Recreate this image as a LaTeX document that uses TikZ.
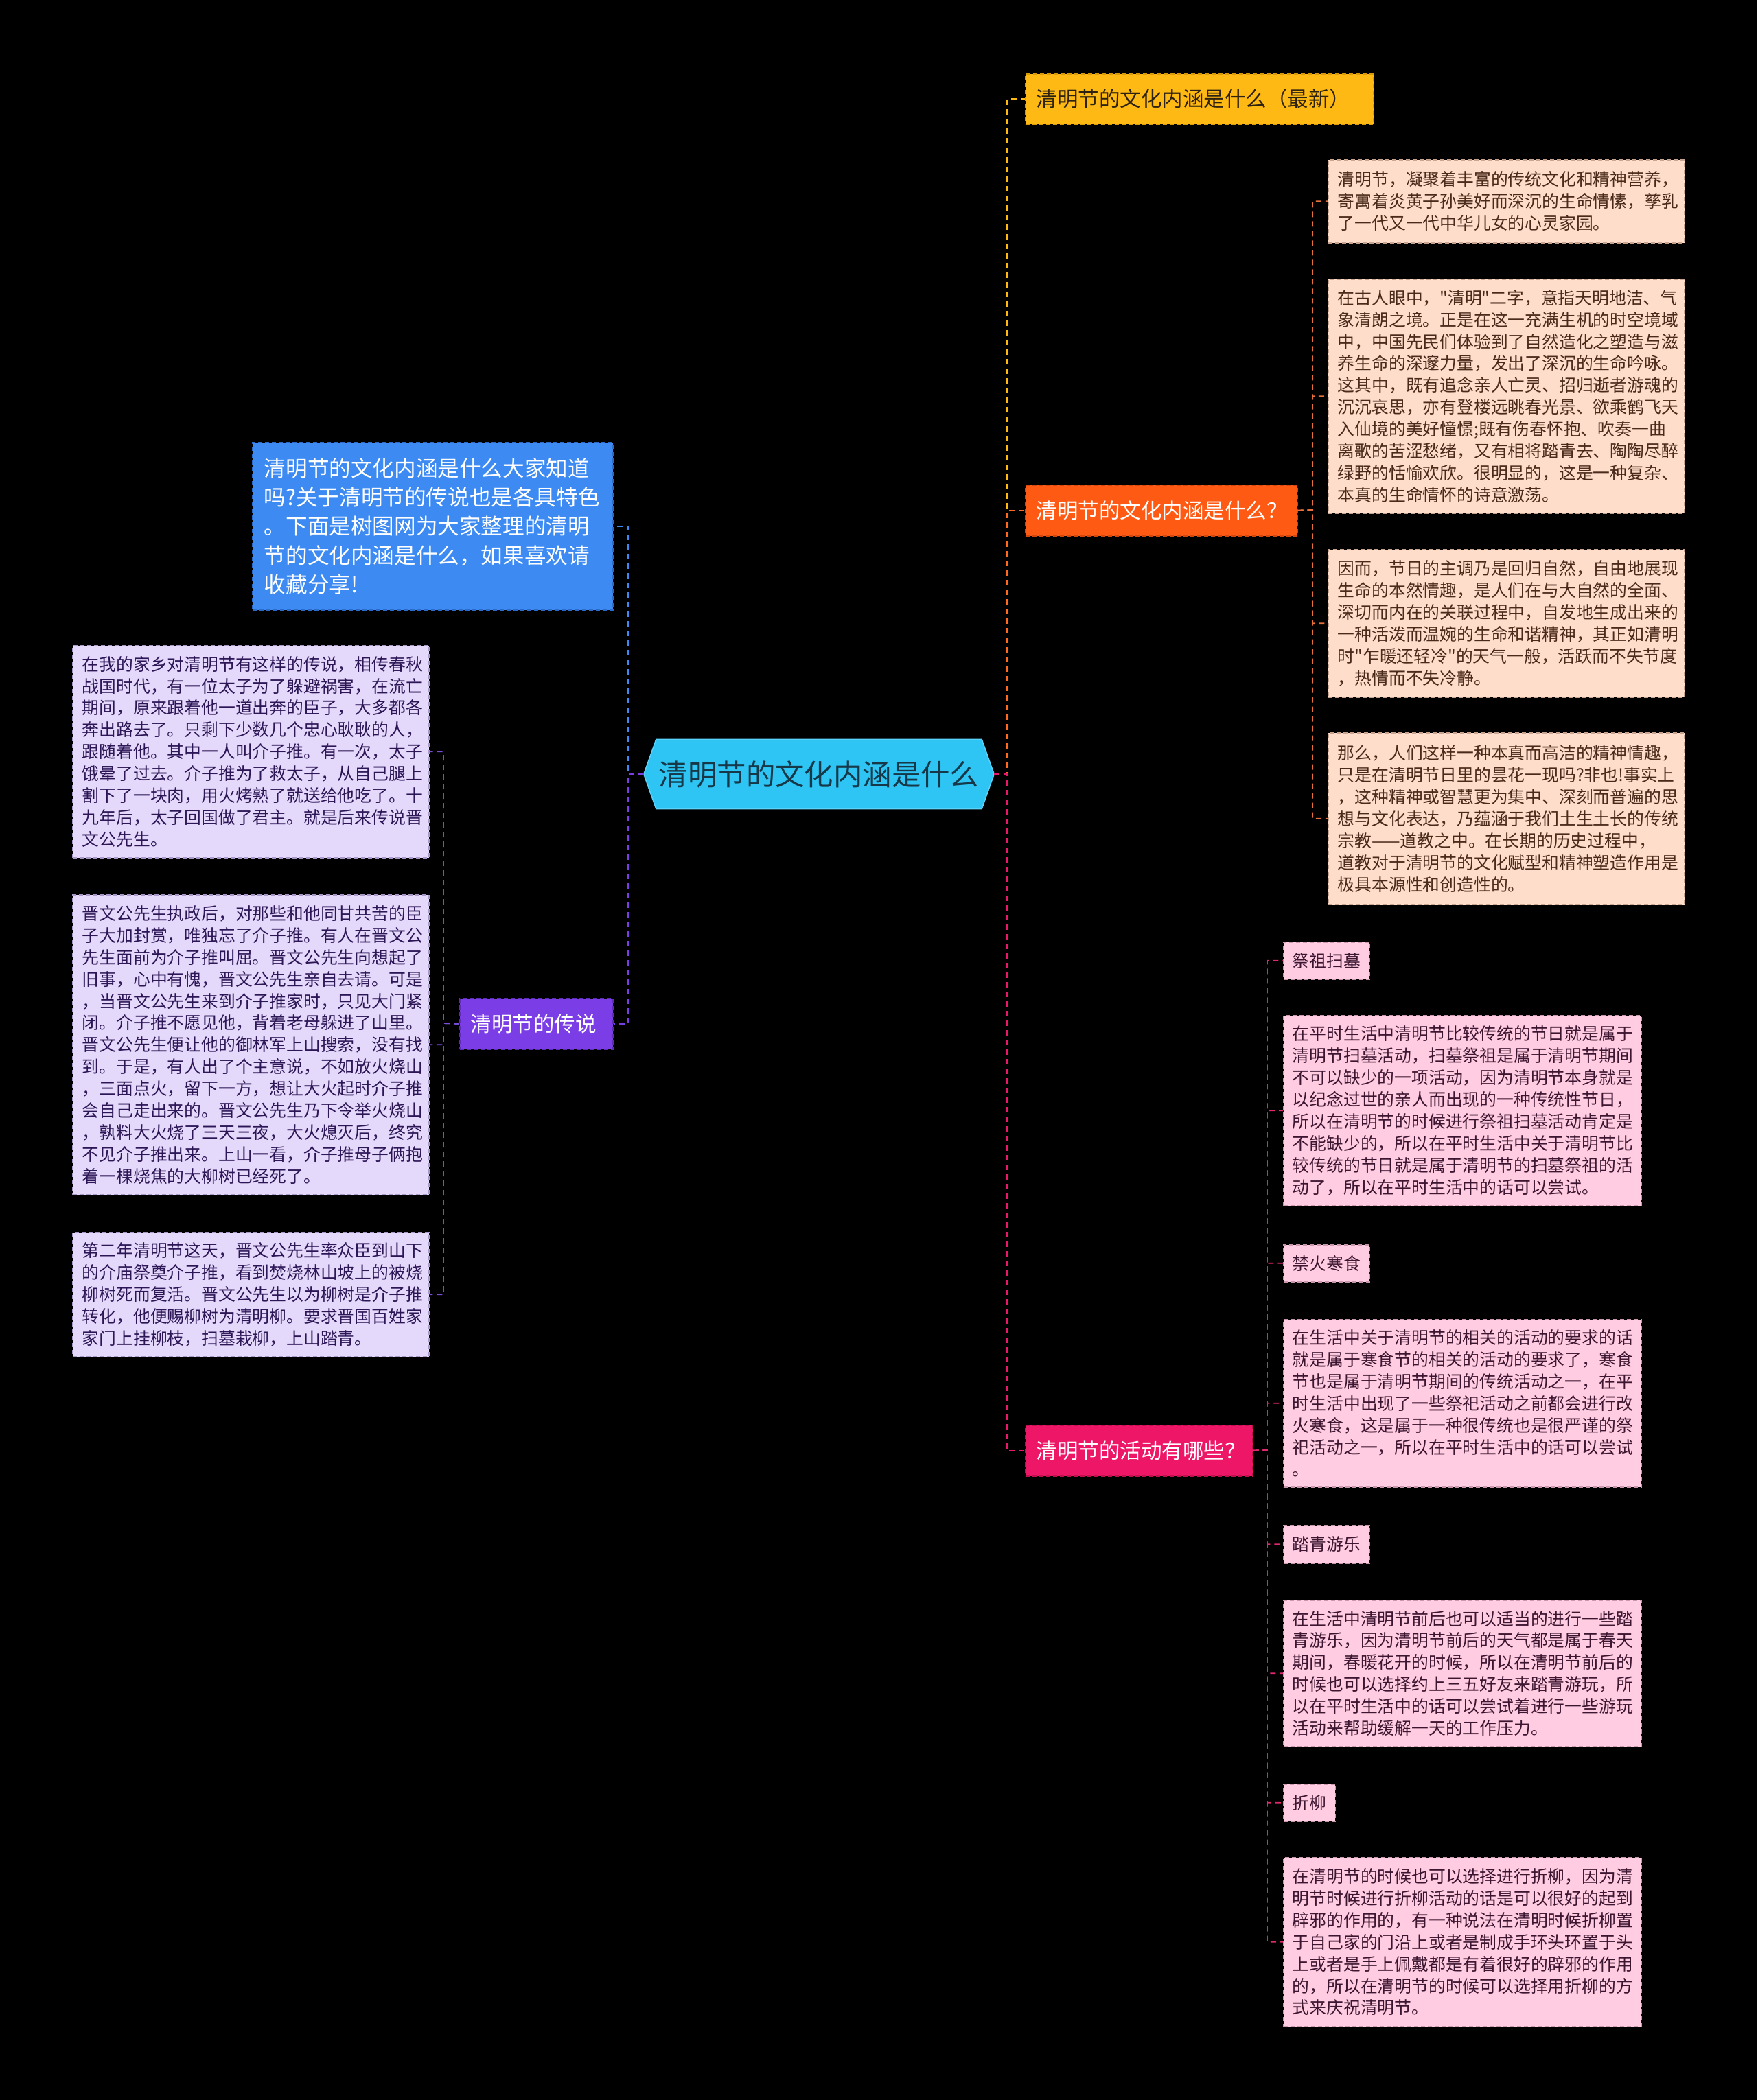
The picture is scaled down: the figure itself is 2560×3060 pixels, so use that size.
\documentclass[tikz,border=0pt]{standalone}
\usepackage{fontspec}
\setmainfont{Noto Sans CJK SC}[Ligatures=TeXOff]
\usetikzlibrary{backgrounds}
\definecolor{cfill}{HTML}{2EC5F5}
\definecolor{cline}{HTML}{5AD3FA}
\definecolor{ctext}{HTML}{163848}
\definecolor{yfill}{HTML}{FFB914}
\definecolor{yline}{HTML}{D89A08}
\definecolor{ytext}{HTML}{2E2310}
\definecolor{ofill}{HTML}{FF5A14}
\definecolor{oline}{HTML}{D44610}
\definecolor{kfill}{HTML}{EE1666}
\definecolor{kline}{HTML}{C01050}
\definecolor{bfill}{HTML}{3D8BF2}
\definecolor{bline}{HTML}{2A6AC8}
\definecolor{ufill}{HTML}{7B3DE6}
\definecolor{uline}{HTML}{5E2AB8}
\definecolor{pfill}{HTML}{FEDDCB}
\definecolor{pline}{HTML}{C9A48E}
\definecolor{ptext}{HTML}{4A2A1A}
\definecolor{lpfill}{HTML}{FFCCE1}
\definecolor{lpline}{HTML}{C998AE}
\definecolor{lptext}{HTML}{3C1530}
\definecolor{vfill}{HTML}{E4D8FB}
\definecolor{vline}{HTML}{A898C8}
\definecolor{vtext}{HTML}{2C1656}
\definecolor{eyel}{HTML}{FFB914}
\definecolor{eora}{HTML}{FF6A20}
\definecolor{epk}{HTML}{E8186A}
\definecolor{eblu}{HTML}{3D8BF2}
\definecolor{epur}{HTML}{7B3DE6}
\definecolor{epch}{HTML}{E8703A}
\definecolor{elp}{HTML}{E0286E}
\definecolor{elv}{HTML}{7B4AD8}
\newcommand\bodyfs{\fontsize{24.8pt}{31.9pt}\selectfont}
\newcommand\branchfs{\fontsize{30.5pt}{36pt}\selectfont}
\newcommand\bluefs{\fontsize{31.6pt}{42.4pt}\selectfont}
\newcommand\centralfs{\fontsize{42.4pt}{50pt}\selectfont}
\tikzset{
  boxbase/.style={anchor=north west, inner ysep=0pt, draw, line width=1.6pt, dash pattern=on 6pt off 4pt, align=left},
  textbox/.style={boxbase, inner xsep=14pt, font=\bodyfs},
  peach/.style={textbox, fill=pfill, draw=pline, text=ptext, text width=491pt, minimum width=519pt},
  lpink/.style={textbox, inner xsep=13pt, fill=lpfill, draw=lpline, text=lptext},
  lpinktext/.style={lpink, text width=495pt, minimum width=521pt},
  lav/.style={textbox, fill=vfill, draw=vline, text=vtext, text width=491pt, minimum width=519pt},
  branch/.style={boxbase, inner xsep=16pt, font=\branchfs, minimum height=74pt},
  central/.style={minimum width=510pt, minimum height=101pt, inner sep=0pt, text=ctext, font=\centralfs},
  trunk/.style={line width=2.6pt, dash pattern=on 8pt off 6pt},
  twig/.style={line width=1.8pt, dash pattern=on 8pt off 6pt}
}
\begin{document}
\begin{tikzpicture}[x=1pt,y=-1pt]
\begin{scope}[on background layer]
\fill[black] (0,0) rectangle (2560,3060);
\end{scope}
\useasboundingbox (0,0) rectangle (2560,3060);

% central
\node[central] (c) at (1193,1128) {清明节的文化内涵是什么};
\begin{scope}[on background layer]
\filldraw[fill=cfill, draw=cline, line width=1.5pt]
  ([xshift=18pt]c.north west) -- ([xshift=-18pt]c.north east) -- (c.east)
  -- ([xshift=-18pt]c.south east) -- ([xshift=18pt]c.south west) -- (c.west) -- cycle;
\end{scope}

% right branches
\node[branch, fill=yfill, draw=yline, text=ytext, text width=475pt, minimum height=73pt] (yl) at (1493,107) {清明节的文化内涵是什么（最新）};
\node[branch, fill=ofill, draw=oline, text=white, text width=364pt] (or) at (1493,706) {清明节的文化内涵是什么？};
\node[branch, fill=kfill, draw=kline, text=white, text width=299pt] (pk) at (1493,2076) {清明节的活动有哪些？};

% left branches
\node[boxbase, inner xsep=17pt, fill=bfill, draw=bline, text=white, font=\bluefs, text width=491pt, minimum height=244pt] (bl) at (367,644) {清明节的文化内涵是什么大家知道\\吗?关于清明节的传说也是各具特色\\。下面是树图网为大家整理的清明\\节的文化内涵是什么，如果喜欢请\\收藏分享!};
\node[branch, fill=ufill, draw=uline, text=white, text width=191pt] (pu) at (669,1454) {清明节的传说};

% peach texts
\node[peach, minimum height=121pt] (p1) at (1934,232) {清明节，凝聚着丰富的传统文化和精神营养，\\寄寓着炎黄子孙美好而深沉的生命情愫，孳乳\\了一代又一代中华儿女的心灵家园。};
\node[peach, minimum height=341pt] (p2) at (1934,406) {在古人眼中，"清明"二字，意指天明地洁、气\\象清朗之境。正是在这一充满生机的时空境域\\中，中国先民们体验到了自然造化之塑造与滋\\养生命的深邃力量，发出了深沉的生命吟咏。\\这其中，既有追念亲人亡灵、招归逝者游魂的\\沉沉哀思，亦有登楼远眺春光景、欲乘鹤飞天\\入仙境的美好憧憬;既有伤春怀抱、吹奏一曲\\离歌的苦涩愁绪，又有相将踏青去、陶陶尽醉\\绿野的恬愉欢欣。很明显的，这是一种复杂、\\本真的生命情怀的诗意激荡。};
\node[peach, minimum height=215pt] (p3) at (1934,800) {因而，节日的主调乃是回归自然，自由地展现\\生命的本然情趣，是人们在与大自然的全面、\\深切而内在的关联过程中，自发地生成出来的\\一种活泼而温婉的生命和谐精神，其正如清明\\时"乍暖还轻冷"的天气一般，活跃而不失节度\\，热情而不失冷静。};
\node[peach, minimum height=250pt] (p4) at (1934,1067) {那么，人们这样一种本真而高洁的精神情趣，\\只是在清明节日里的昙花一现吗?非也!事实上\\，这种精神或智慧更为集中、深刻而普遍的思\\想与文化表达，乃蕴涵于我们土生土长的传统\\宗教——道教之中。在长期的历史过程中，\\道教对于清明节的文化赋型和精神塑造作用是\\极具本源性和创造性的。};

% pink children
\node[lpink, minimum height=54pt] (k1) at (1869,1372) {祭祖扫墓};
\node[lpinktext, minimum height=277pt] (t1) at (1869,1479) {在平时生活中清明节比较传统的节日就是属于\\清明节扫墓活动，扫墓祭祖是属于清明节期间\\不可以缺少的一项活动，因为清明节本身就是\\以纪念过世的亲人而出现的一种传统性节日，\\所以在清明节的时候进行祭祖扫墓活动肯定是\\不能缺少的，所以在平时生活中关于清明节比\\较传统的节日就是属于清明节的扫墓祭祖的活\\动了，所以在平时生活中的话可以尝试。};
\node[lpink, minimum height=54pt] (k2) at (1869,1813) {禁火寒食};
\node[lpinktext, minimum height=244pt] (t2) at (1869,1922) {在生活中关于清明节的相关的活动的要求的话\\就是属于寒食节的相关的活动的要求了，寒食\\节也是属于清明节期间的传统活动之一，在平\\时生活中出现了一些祭祀活动之前都会进行改\\火寒食，这是属于一种很传统也是很严谨的祭\\祀活动之一，所以在平时生活中的话可以尝试\\。};
\node[lpink, minimum height=55pt] (k3) at (1869,2222) {踏青游乐};
\node[lpinktext, minimum height=213pt] (t3) at (1869,2331) {在生活中清明节前后也可以适当的进行一些踏\\青游乐，因为清明节前后的天气都是属于春天\\期间，春暖花开的时候，所以在清明节前后的\\时候也可以选择约上三五好友来踏青游玩，所\\以在平时生活中的话可以尝试着进行一些游玩\\活动来帮助缓解一天的工作压力。};
\node[lpink, minimum height=54pt] (k4) at (1869,2599) {折柳};
\node[lpinktext, minimum height=246pt] (t4) at (1869,2706) {在清明节的时候也可以选择进行折柳，因为清\\明节时候进行折柳活动的话是可以很好的起到\\辟邪的作用的，有一种说法在清明时候折柳置\\于自己家的门沿上或者是制成手环头环置于头\\上或者是手上佩戴都是有着很好的辟邪的作用\\的，所以在清明节的时候可以选择用折柳的方\\式来庆祝清明节。};

% lavender texts
\node[lav, minimum height=309pt] (v1) at (105,940) {在我的家乡对清明节有这样的传说，相传春秋\\战国时代，有一位太子为了躲避祸害，在流亡\\期间，原来跟着他一道出奔的臣子，大多都各\\奔出路去了。只剩下少数几个忠心耿耿的人，\\跟随着他。其中一人叫介子推。有一次，太子\\饿晕了过去。介子推为了救太子，从自己腿上\\割下了一块肉，用火烤熟了就送给他吃了。十\\九年后，太子回国做了君主。就是后来传说晋\\文公先生。};
\node[lav, minimum height=437pt] (v2) at (105,1303) {晋文公先生执政后，对那些和他同甘共苦的臣\\子大加封赏，唯独忘了介子推。有人在晋文公\\先生面前为介子推叫屈。晋文公先生向想起了\\旧事，心中有愧，晋文公先生亲自去请。可是\\，当晋文公先生来到介子推家时，只见大门紧\\闭。介子推不愿见他，背着老母躲进了山里。\\晋文公先生便让他的御林军上山搜索，没有找\\到。于是，有人出了个主意说，不如放火烧山\\，三面点火，留下一方，想让大火起时介子推\\会自己走出来的。晋文公先生乃下令举火烧山\\，孰料大火烧了三天三夜，大火熄灭后，终究\\不见介子推出来。上山一看，介子推母子俩抱\\着一棵烧焦的大柳树已经死了。};
\node[lav, minimum height=181pt] (v3) at (105,1795) {第二年清明节这天，晋文公先生率众臣到山下\\的介庙祭奠介子推，看到焚烧林山坡上的被烧\\柳树死而复活。晋文公先生以为柳树是介子推\\转化，他便赐柳树为清明柳。要求晋国百姓家\\家门上挂柳枝，扫墓栽柳，上山踏青。};

% junctions
\coordinate (rj) at (1467,1128);
\coordinate (lj) at (915,1128);
\coordinate (oj) at (1912,743);
\coordinate (kj) at (1846,2113);
\coordinate (vj) at (646,1491);

% connectors
\draw[trunk, eyel] (c.east) -- (rj) |- (yl.west);
\draw[trunk, eora] (c.east) -- (rj) |- (or.west);
\draw[trunk, epk] (c.east) -- (rj) |- (pk.west);
\draw[trunk, eblu] (c.west) -- (lj) |- (bl.east);
\draw[trunk, epur] (c.west) -- (lj) |- (pu.east);

\foreach \n in {p1,p2,p3,p4} \draw[twig, epch] (or.east) -- (oj) |- (\n.west);
\foreach \n in {k1,t1,k2,t2,k3,t3,k4,t4} \draw[twig, elp] (pk.east) -- (kj) |- (\n.west);
\foreach \n in {v1,v2,v3} \draw[twig, elv] (pu.west) -- (vj) |- (\n.east);
\end{tikzpicture}
\end{document}
